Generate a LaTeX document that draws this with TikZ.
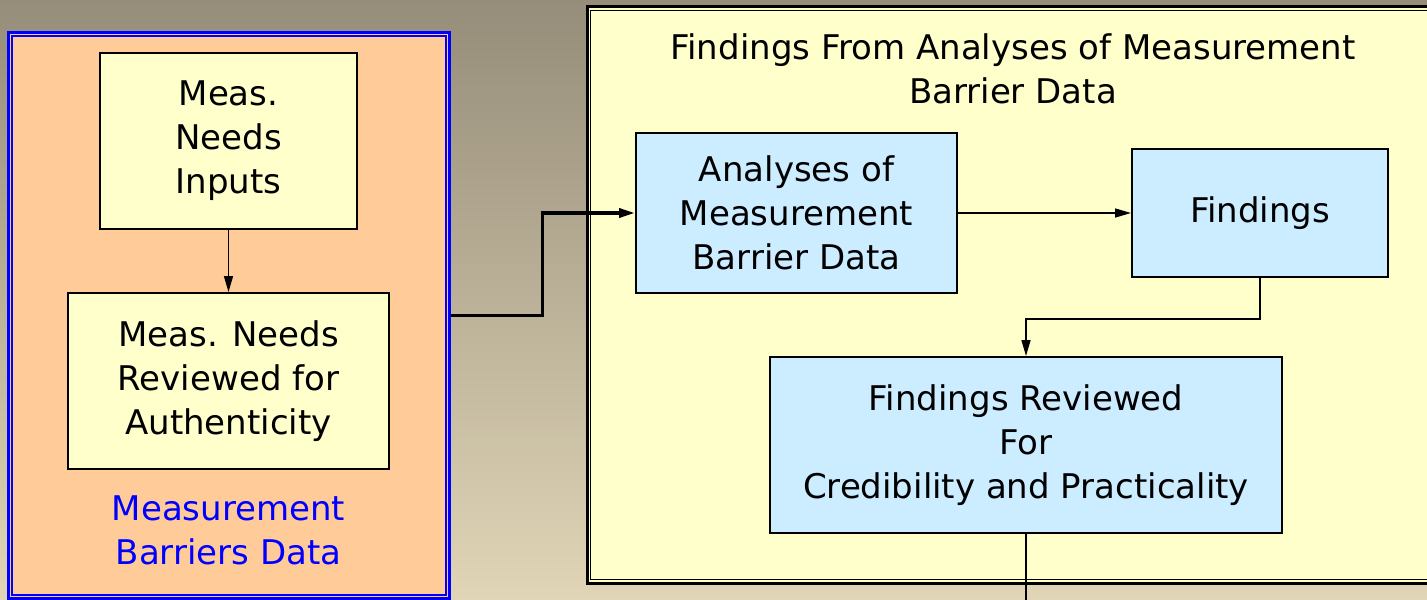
\documentclass[tikz,border=0pt]{standalone}
\usepackage{fontspec}
\setmainfont{DejaVu Sans}
\usetikzlibrary{arrows.meta}
\definecolor{bgtop}{RGB}{150,141,122}
\definecolor{bgbot}{RGB}{224,213,182}
\definecolor{peach}{RGB}{255,204,153}
\definecolor{paleyellow}{RGB}{255,255,204}
\definecolor{paleblue}{RGB}{204,236,255}
\begin{document}
\begin{tikzpicture}[x=0.5pt, y=-0.5pt, font=\fontsize{17}{22}\selectfont,
    pale/.style={rectangle, draw, line width=1pt, fill=paleyellow, align=center, inner sep=0pt},
    bluebox/.style={rectangle, draw, line width=1pt, fill=paleblue, align=center, inner sep=0pt},
    link/.style={line width=0.75pt, -{Triangle[length=8pt,width=4.5pt]}}]
    \clip (0,0) rectangle (1427,599);
    \shade[top color=bgtop, bottom color=bgbot] (0,0) rectangle (1427,599);

    \node (barrier) [rectangle, draw=blue, line width=1.5pt, fill=peach, minimum width=220.5pt, minimum height=282.5pt] at (228.5,315.5) {};
    \draw[blue, line width=1pt] ([shift={(5,5)}]barrier.north west) rectangle ([shift={(-5,-5)}]barrier.south east);
    \node (inputs) [pale, minimum width=128.5pt, minimum height=88pt] at (228.5,141) {Meas.\\Needs\\Inputs};
    \node (authentic) [pale, minimum width=160.5pt, minimum height=88pt] at (228.5,381) {Meas. Needs\\Reviewed for\\Authenticity};
    \node (barrierlabel) [text=blue, align=center] at (228.5,530) {Measurement\\Barriers Data};

    \node (findframe) [rectangle, draw, line width=1.5pt, fill=paleyellow, minimum width=426.5pt, minimum height=288pt] at (1013.5,295) {};
    \draw[line width=0.75pt] ([shift={(5,5)}]findframe.north west) rectangle ([shift={(-5,-5)}]findframe.south east);
    \node (title) [align=center] at (1013,69) {Findings From Analyses of Measurement\\Barrier Data};
    \node (analyses) [bluebox, minimum width=160.5pt, minimum height=80pt] at (796.5,213) {Analyses of\\Measurement\\Barrier Data};
    \node (findings) [bluebox, minimum width=128pt, minimum height=64pt] at (1260,213) {Findings};
    \node (reviewed) [bluebox, minimum width=256pt, minimum height=88pt] at (1026,445) {Findings Reviewed\\For\\Credibility and Practicality};
    \coordinate (exit) at (1026,610);

    \draw[link] (inputs) -- (authentic);
    \draw[link, line width=1.75pt] (barrier.east) -- ++(92,0) |- (analyses.west);
    \draw[link] (analyses) -- (findings);
    \draw[link] (findings.south) -- ++(0,41) -| (reviewed.north);
    \draw[line width=0.75pt] (reviewed.south) -- (exit);
\end{tikzpicture}
\end{document}
